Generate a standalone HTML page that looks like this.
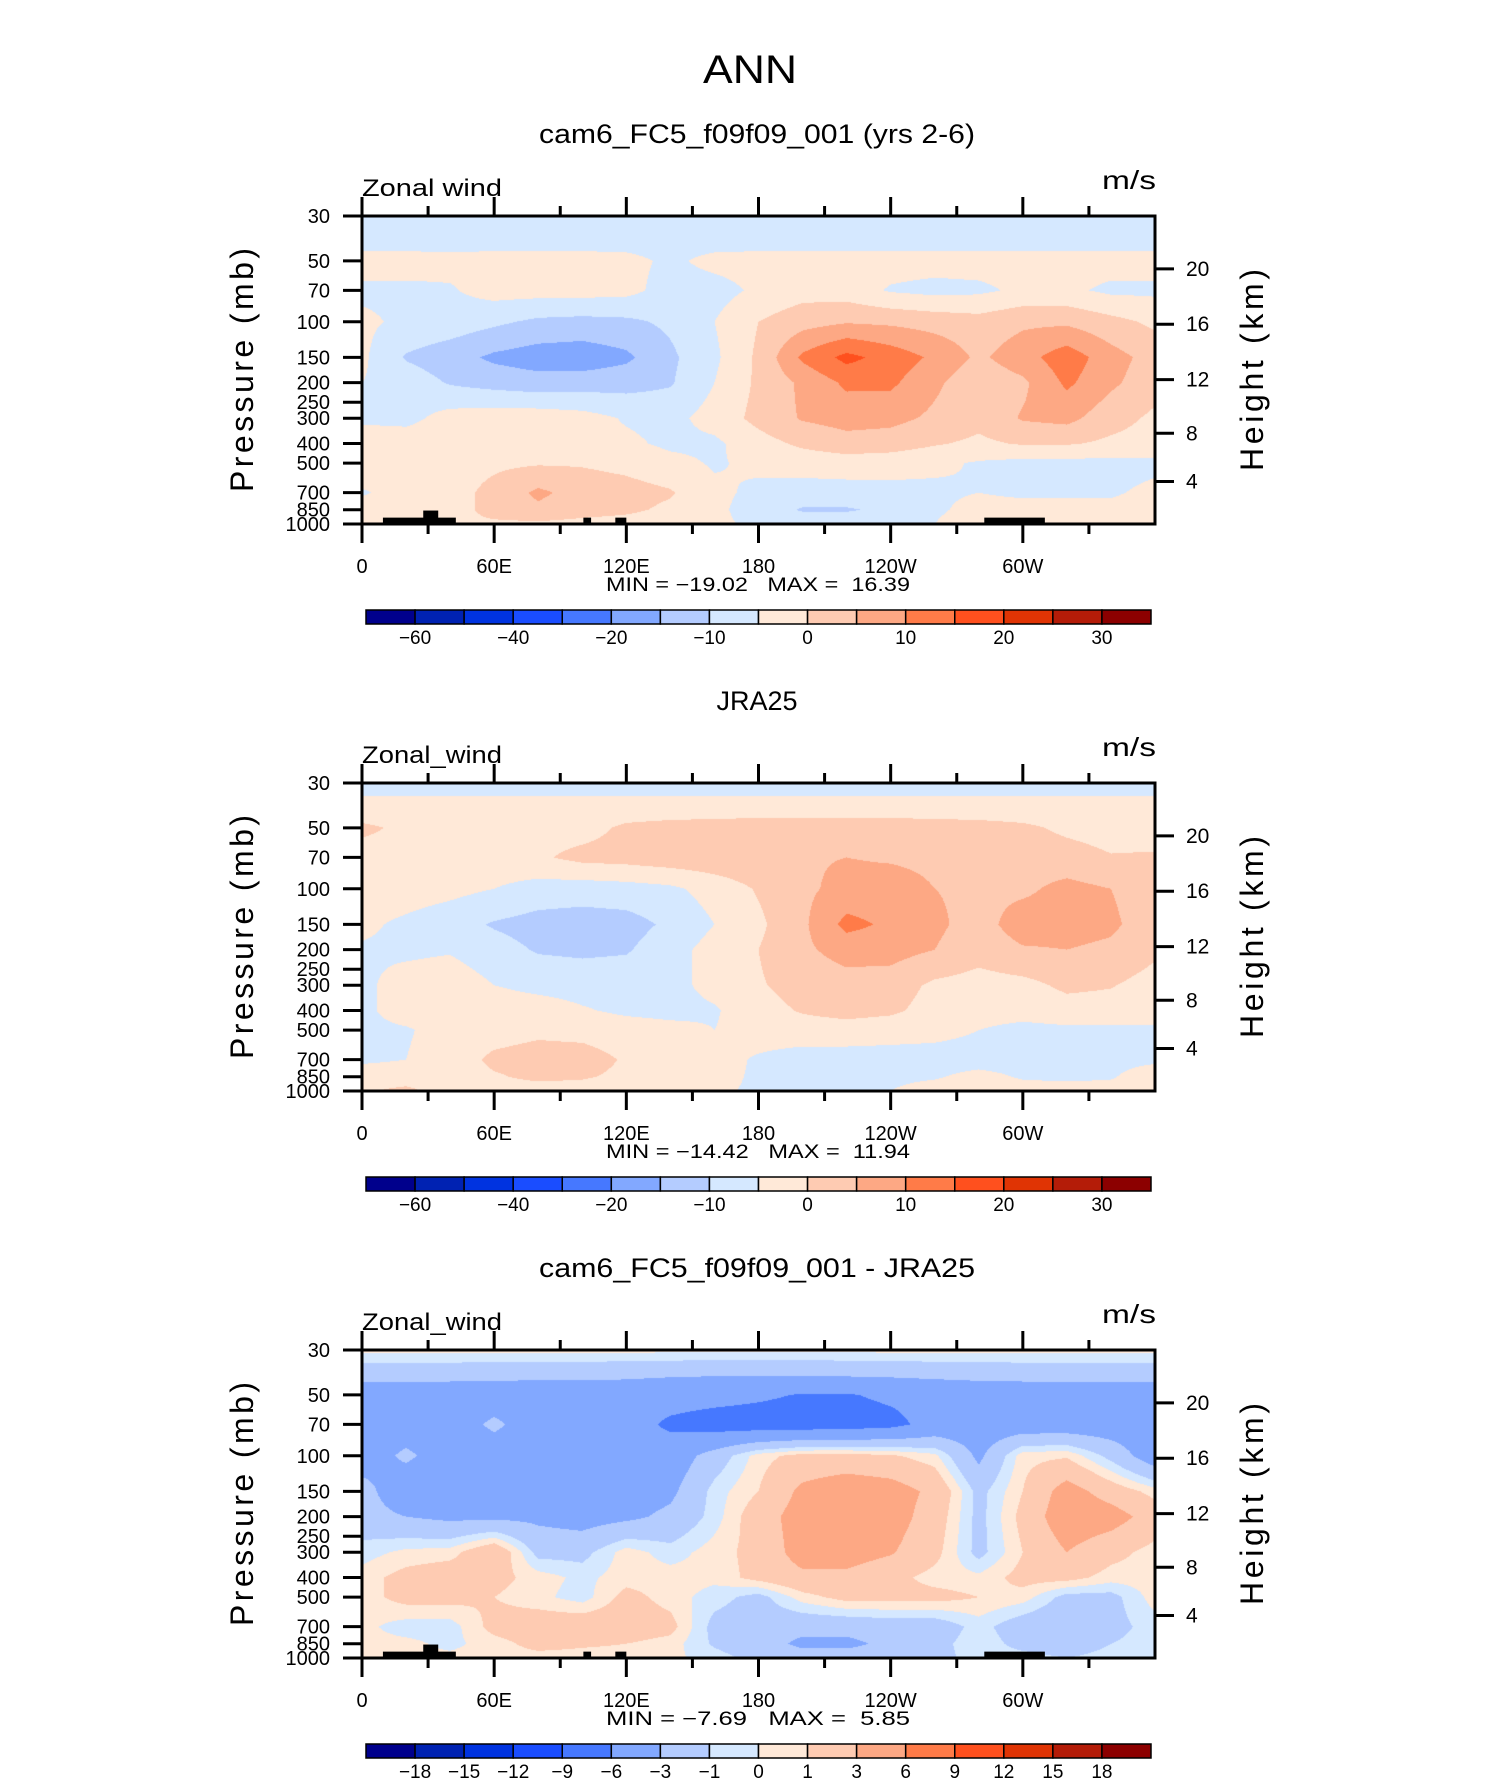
<!DOCTYPE html>
<html><head><meta charset="utf-8"><style>
html,body{margin:0;padding:0;background:#fff;}
#wrap{position:relative;width:1498px;height:1784px;overflow:hidden;}
canvas{position:absolute;}
svg{position:absolute;left:0;top:0;}
text{font-family:"Liberation Sans",sans-serif;fill:#000;}
</style></head><body>
<div id="wrap">
<canvas id="c0" width="793" height="308" style="left:362px;top:216px"></canvas>
<canvas id="c1" width="793" height="308" style="left:362px;top:783px"></canvas>
<canvas id="c2" width="793" height="308" style="left:362px;top:1350px"></canvas>
<svg id="s" width="1498" height="1784">
<text x="750" y="83" font-size="40" text-anchor="middle" textLength="94" lengthAdjust="spacingAndGlyphs">ANN</text>
</svg>
</div>
<script>
const lons=[0,20,40,60,80,100,120,140,160,180,200,220,240,260,280,300,320,340,360];
const plevs=[30,40,50,70,100,150,200,300,400,500,700,850,1000];
const levelsFull=[-60,-50,-40,-30,-20,-15,-10,-5,0,5,10,15,20,25,30];
const levelsDiff=[-18,-15,-12,-9,-6,-3,-1,0,1,3,6,9,12,15,18];
const fullLabelStep=2;
const colors=['#00008c','#0022b2','#0033e0','#1a4dff','#4678ff','#82a8ff','#b4ccff','#d5e8ff','#ffe9d8','#fecbb2','#fda884','#ff7b48','#ff501e','#e03404','#b41c08','#8c0000'];
const pTicks=[30,50,70,100,150,200,250,300,400,500,700,850,1000];
const kmTicks=[4,8,12,16,20];
const lonLabelVals=[0,60,120,180,240,300];
const lonLabels=['0','60E','120E','180','120W','60W'];
const titles=['cam6_FC5_f09f09_001 (yrs 2-6)','JRA25','cam6_FC5_f09f09_001 - JRA25'];
const varNames=['Zonal wind','Zonal_wind','Zonal_wind'];
const minVals=['-19.02','-14.42','-7.69'];
const maxVals=['16.39','11.94','5.85'];
const topoLonStart=[9.5,27.8,100.5,115,282.5];
const topoLonEnd=[42.6,34.6,104,120,310];
const topoTopP=[930,858,930,930,930];

const u_model=[
[-8,-8,-8,-8,-8,-8,-8,-8,-8,-8,-8,-8,-8,-8,-8,-8,-8,-8,-8],
[-7,-7,-7,-7,-7,-7,-7,-7,-7,-7,-7,-7,-7,-7,-7,-7,-7,-7,-7],
[-3,-3,-3.5,-3,-3,-3,-3.5,-6,-3.5,-3,-3,-3,-3,-3,-3,-3,-3,-3,-3],
[-6,-6,-5.5,-3,-3,-3,-3.5,-7,-7,-4,-2,-2.5,-5.5,-6.5,-6,-4,-4,-6,-6],
[-4,-6,-7,-9,-11,-11.5,-11,-9,-5,0,3,4.5,4,3,2,4,4,1.5,-1],
[-4,-10.5,-13,-16,-17.5,-18,-16,-11,-6,1,11,16.5,13,9,4,8,13,7,3],
[-5,-7,-10.5,-12,-13,-12.5,-12,-10.5,-5,1,6,11,11,6,1.5,4,11,6,2],
[-6,-6.5,-3,-2,-2,-3,-5.5,-6.5,-3,1.5,5.5,7,6.5,4,1.5,5.5,6.5,2,-1],
[-2,-2,-2,-2.5,-3,-3.5,-4,-6,-6,-2,1,3,2.5,0.5,-1,0.5,0.5,-1,-2],
[-2,-2,-2,-1,-0.5,-0.5,-1.5,-3.5,-5.5,-4,-3,-2.5,-3,-4,-5.5,-6.5,-6.5,-6.5,-6],
[-5.5,-3,-2,1.5,6,3,2,0.5,-4,-6,-7,-7,-6.5,-6,-5,-6,-6,-5.5,-4],
[-3,-3,-2.5,2,4,2,1,-1,-4,-7,-10.5,-10.5,-9,-6,-3,-3,-3,-4,-3],
[-1,1,-1,-1,-1,-1.5,-2,-3,-4,-6,-7,-7,-6,-5,-1,-1,-2,-3,-2]
];
const u_jra=[
[-7,-7,-7,-7,-7,-7,-7,-7,-7,-7,-7,-7,-7,-7,-7,-7,-7,-7,-7],
[-3,-3,-3,-3,-3,-3,-3,-3,-3,-3,-3,-3,-3,-3,-3,-3,-3,-3,-3],
[1,-1,-2,-2,-2,-2,1,2,2.5,3,3,3,3,2.5,2,1,-1,-2,-2],
[-2,-2,-2,-2,-0.8,1.5,2,3,3.5,4,4.5,5,4.5,4,3.5,3,2,0.3,0.5],
[-2,-2.5,-3.5,-5,-7,-7.5,-7,-6,-3,0.5,4,6.5,7,5,4,4,6.5,5,2],
[-4,-6,-8,-10.5,-12,-12.5,-12,-9,-5,-1,4,11.5,9,6,3,7.5,7,6,2],
[-5.5,-6,-5.5,-8,-10.5,-11,-10.5,-7,-3,0,4,7,7,5,2,4.5,5,4,1],
[-6,-3,-2,-5,-6.5,-7,-7,-6.5,-3.5,-0.5,2,3,2.5,-1,-2,-1.5,1,0.3,-2],
[-6,-3,-2,-2,-2.5,-4.5,-6,-6.5,-5.5,-2,0.5,2,1,-2,-3,-3,-2,-2,-2],
[-6,-5.5,-3,-2,-1,-1.5,-2.5,-3.5,-5,-3,-2.5,-2.5,-3,-3.5,-5,-6.5,-6,-6,-6],
[-6,-5,-2.5,1,2,2,-0.5,-2,-3.5,-5.5,-7,-7,-7,-7,-7,-7,-7,-6.5,-6],
[-2,-2,-2,-0.5,1,0.5,-1,-2.5,-4,-5.5,-6.5,-6.5,-6,-5.5,-3.5,-5.5,-6,-5.5,-2],
[-0.5,1,-2,-2,-2,-2,-2.5,-3.5,-4.5,-5.5,-6,-6,-5,-3,-2.5,-3,-3,-3,-2]
];
const u_diff=[
[0.3,0.3,0.3,0.3,0.3,0.3,0.3,0.3,0.3,0.3,0.3,0.3,0.3,0.3,0.3,0.3,0.3,0.3,0.3],
[-2.3,-2.3,-2.3,-2.4,-2.5,-2.5,-2.6,-2.8,-2.9,-2.9,-2.9,-2.8,-2.7,-2.5,-2.4,-2.3,-2.3,-2.3,-2.3],
[-4.5,-4.5,-4.5,-4.5,-4.5,-4.5,-4.5,-4.8,-5,-5.5,-6.2,-6.2,-5.5,-5,-4.5,-4.5,-4.5,-4.5,-4.5],
[-4.5,-4.5,-4.5,-2.5,-4.5,-4.5,-4.8,-6.5,-7.3,-7.5,-7.5,-7.3,-6.8,-5,-4.5,-4.5,-4.5,-4.5,-4.5],
[-4.5,-2.5,-4.5,-4.5,-4.5,-4.5,-5,-4.5,-2,0.5,1.5,1.5,1.2,0.3,-3.5,0.6,0.8,-1.5,-4.5],
[-2,-5,-5,-4.5,-4.5,-4.5,-4.2,-3.5,-0.5,1,3.5,4.5,4,2.5,-1.5,1,4,2,0.5],
[-2,-3,-3.5,-3.5,-3.5,-4,-3.5,-2.5,-0.5,2,4,5,4,2,-1.5,1.5,4.5,4,2],
[-0.5,0.3,0.5,2.5,-1.5,-1.5,0.5,-0.5,0.5,1.5,4,4,3.2,1.5,-1.5,1,3,1.5,0.5],
[0.5,1.5,2,1.5,0.5,-0.3,0.5,0.5,0.3,1.5,2.5,2.5,1.5,0.5,0.3,1.5,1.5,0.5,0.5],
[0.5,1.5,1.5,1,0.3,-0.5,1.5,0.5,-0.5,-1.5,0.5,1.5,1.5,1.5,1,0.5,-1.5,-1.5,0.5],
[0.3,-0.5,-0.5,1.5,2,2.2,2,1.5,-1.5,-2,-2.3,-2.3,-2,-2,-0.5,-2,-2.5,-1.5,-0.5],
[0.3,0.3,-0.3,0.5,1.5,1.2,1,0.5,-1.2,-2,-3.5,-3.5,-2.5,-1.5,-0.3,-1.5,-2,-1,-0.5],
[0.3,0.3,0.3,0.5,0.5,0.5,0.5,0.3,-0.5,-1.5,-2,-2,-2,-1.5,-0.5,-0.5,-1,-0.5,-0.3]
];

const X0=362, PW=793, PH=308;
const tops=[216,783,1350];
const LN=Math.log(1000/30);
function xOf(lon){return X0+lon/360*PW;}
function yOf(T,p){return T+Math.log(p/30)/LN*PH;}
function kmToP(z){z*=1000;return z<11000?1013.25*Math.pow(1-2.25577e-5*z,5.25588):226.32*Math.exp(-(z-11000)/6341.6);}
function sample(grid,lon,p){
  const lp=Math.log(p);
  let i=0;while(i<plevs.length-2&&Math.log(plevs[i+1])<lp)i++;
  const a=Math.log(plevs[i]),b=Math.log(plevs[i+1]);
  const t=Math.min(1,Math.max(0,(lp-a)/(b-a)));
  let j=Math.min(lons.length-2,Math.floor(lon/20));
  const s=Math.min(1,Math.max(0,(lon-lons[j])/(lons[j+1]-lons[j])));
  const v0=grid[i][j]*(1-s)+grid[i][j+1]*s;
  const v1=grid[i+1][j]*(1-s)+grid[i+1][j+1]*s;
  return v0*(1-t)+v1*t;
}
function hex(c){return [parseInt(c.substr(1,2),16),parseInt(c.substr(3,2),16),parseInt(c.substr(5,2),16)];}
const rgb=colors.map(hex);
function fill(id,grid,levels){
  const cv=document.getElementById(id),ctx=cv.getContext('2d');
  const img=ctx.createImageData(PW,PH);
  for(let py=0;py<PH;py++){
    const p=30*Math.exp((py+0.5)/PH*LN);
    for(let px=0;px<PW;px++){
      const lon=(px+0.5)/PW*360;
      const v=sample(grid,lon,p);
      let k=0;while(k<levels.length&&v>=levels[k])k++;
      const c=rgb[k],o=(py*PW+px)*4;
      img.data[o]=c[0];img.data[o+1]=c[1];img.data[o+2]=c[2];img.data[o+3]=255;
    }
  }
  ctx.putImageData(img,0,0);
}
const levs=[levelsFull,levelsFull,levelsDiff];
fill('c0',u_model,levelsFull);fill('c1',u_jra,levelsFull);fill('c2',u_diff,levelsDiff);

const svg=document.getElementById('s');const NS='http://www.w3.org/2000/svg';
function el(tag,attrs,txt){const e=document.createElementNS(NS,tag);for(const k in attrs)e.setAttribute(k,attrs[k]);if(txt!==undefined)e.textContent=txt;svg.appendChild(e);return e;}

for(let n=0;n<3;n++){
  const T=tops[n],B=T+PH,R=X0+PW;
  let e;
  e=el('text',{x:757,y:T-73,'font-size':27,'text-anchor':'middle'},titles[n]);
  if(n!==1){e.setAttribute('textLength',436);e.setAttribute('lengthAdjust','spacingAndGlyphs');}
  
  
  e=el('text',{x:X0,y:T-20,'font-size':24,textLength:140,lengthAdjust:'spacingAndGlyphs'},varNames[n]);
  
  
  e=el('text',{x:R+1,y:T-27,'font-size':26,'text-anchor':'end',textLength:54,lengthAdjust:'spacingAndGlyphs'},'m/s');
  
  
  for(let t=0;t<topoLonStart.length;t++){
    if(n===1)break;
    const y=yOf(T,topoTopP[t]);
    e=el('rect',{x:xOf(topoLonStart[t]),y:y,width:xOf(topoLonEnd[t])-xOf(topoLonStart[t]),height:B-y,fill:'#000'});
    
    
  }
  e=el('rect',{x:X0,y:T,width:PW,height:PH,fill:'none',stroke:'#000','stroke-width':3});
  
  
  for(let lon=0;lon<360;lon+=30){
    const major=lon%60===0,len=major?19:10,x=xOf(lon);
    e=el('line',{x1:x,y1:T,x2:x,y2:T-len,stroke:'#000','stroke-width':3});
    
    
    e=el('line',{x1:x,y1:B,x2:x,y2:B+len,stroke:'#000','stroke-width':3});
    
    
  }
  for(let i=0;i<lonLabels.length;i++){
    e=el('text',{x:xOf(lonLabelVals[i]),y:T+357,'font-size':20,'text-anchor':'middle'},lonLabels[i]);
    
    
  }
  for(let i=0;i<pTicks.length;i++){
    const y=yOf(T,pTicks[i]);
    e=el('line',{x1:X0,y1:y,x2:X0-19,y2:y,stroke:'#000','stroke-width':3});
    
    
    e=el('text',{x:330,y:y+7,'font-size':20,'text-anchor':'end'},String(pTicks[i]));
    
    
  }
  for(let i=0;i<kmTicks.length;i++){
    const y=yOf(T,kmToP(kmTicks[i]));
    e=el('line',{x1:R,y1:y,x2:R+19,y2:y,stroke:'#000','stroke-width':3});
    
    
    e=el('text',{x:1186,y:y+7,'font-size':21},String(kmTicks[i]));
    
    
  }
  const cy=T+PH/2;
  e=el('text',{x:0,y:0,'font-size':32,'text-anchor':'middle',textLength:244,lengthAdjust:'spacing',transform:`translate(253,${cy}) rotate(-90)`},'Pressure (mb)');
  
  
  e=el('text',{x:0,y:0,'font-size':32,'text-anchor':'middle',textLength:202,lengthAdjust:'spacing',transform:`translate(1263,${cy}) rotate(-90)`},'Height (km)');
  
  
  e=el('text',{x:606,y:T+375,'font-size':19,textLength:304,lengthAdjust:'spacingAndGlyphs'},'MIN = '+minVals[n].replace('-','\u2212')+'\u00a0\u00a0 MAX = \u00a0'+maxVals[n]);
  
  
  const CX=366,CW=785/16,CY=T+394;
  for(let k=0;k<16;k++){
    e=el('rect',{x:CX+k*CW,y:CY,width:CW,height:14,fill:colors[k],stroke:'#000','stroke-width':1.5});
    
    
  }
  const lv=levs[n],step=n===2?1:fullLabelStep;
  for(let k=0;k<lv.length;k+=step){
    const s=String(lv[k]).replace('-','\u2212');
    e=el('text',{x:CX+(k+1)*CW,y:T+428,'font-size':19,'text-anchor':'middle'},s);
    
    
  }
}
</script>
</body></html>
